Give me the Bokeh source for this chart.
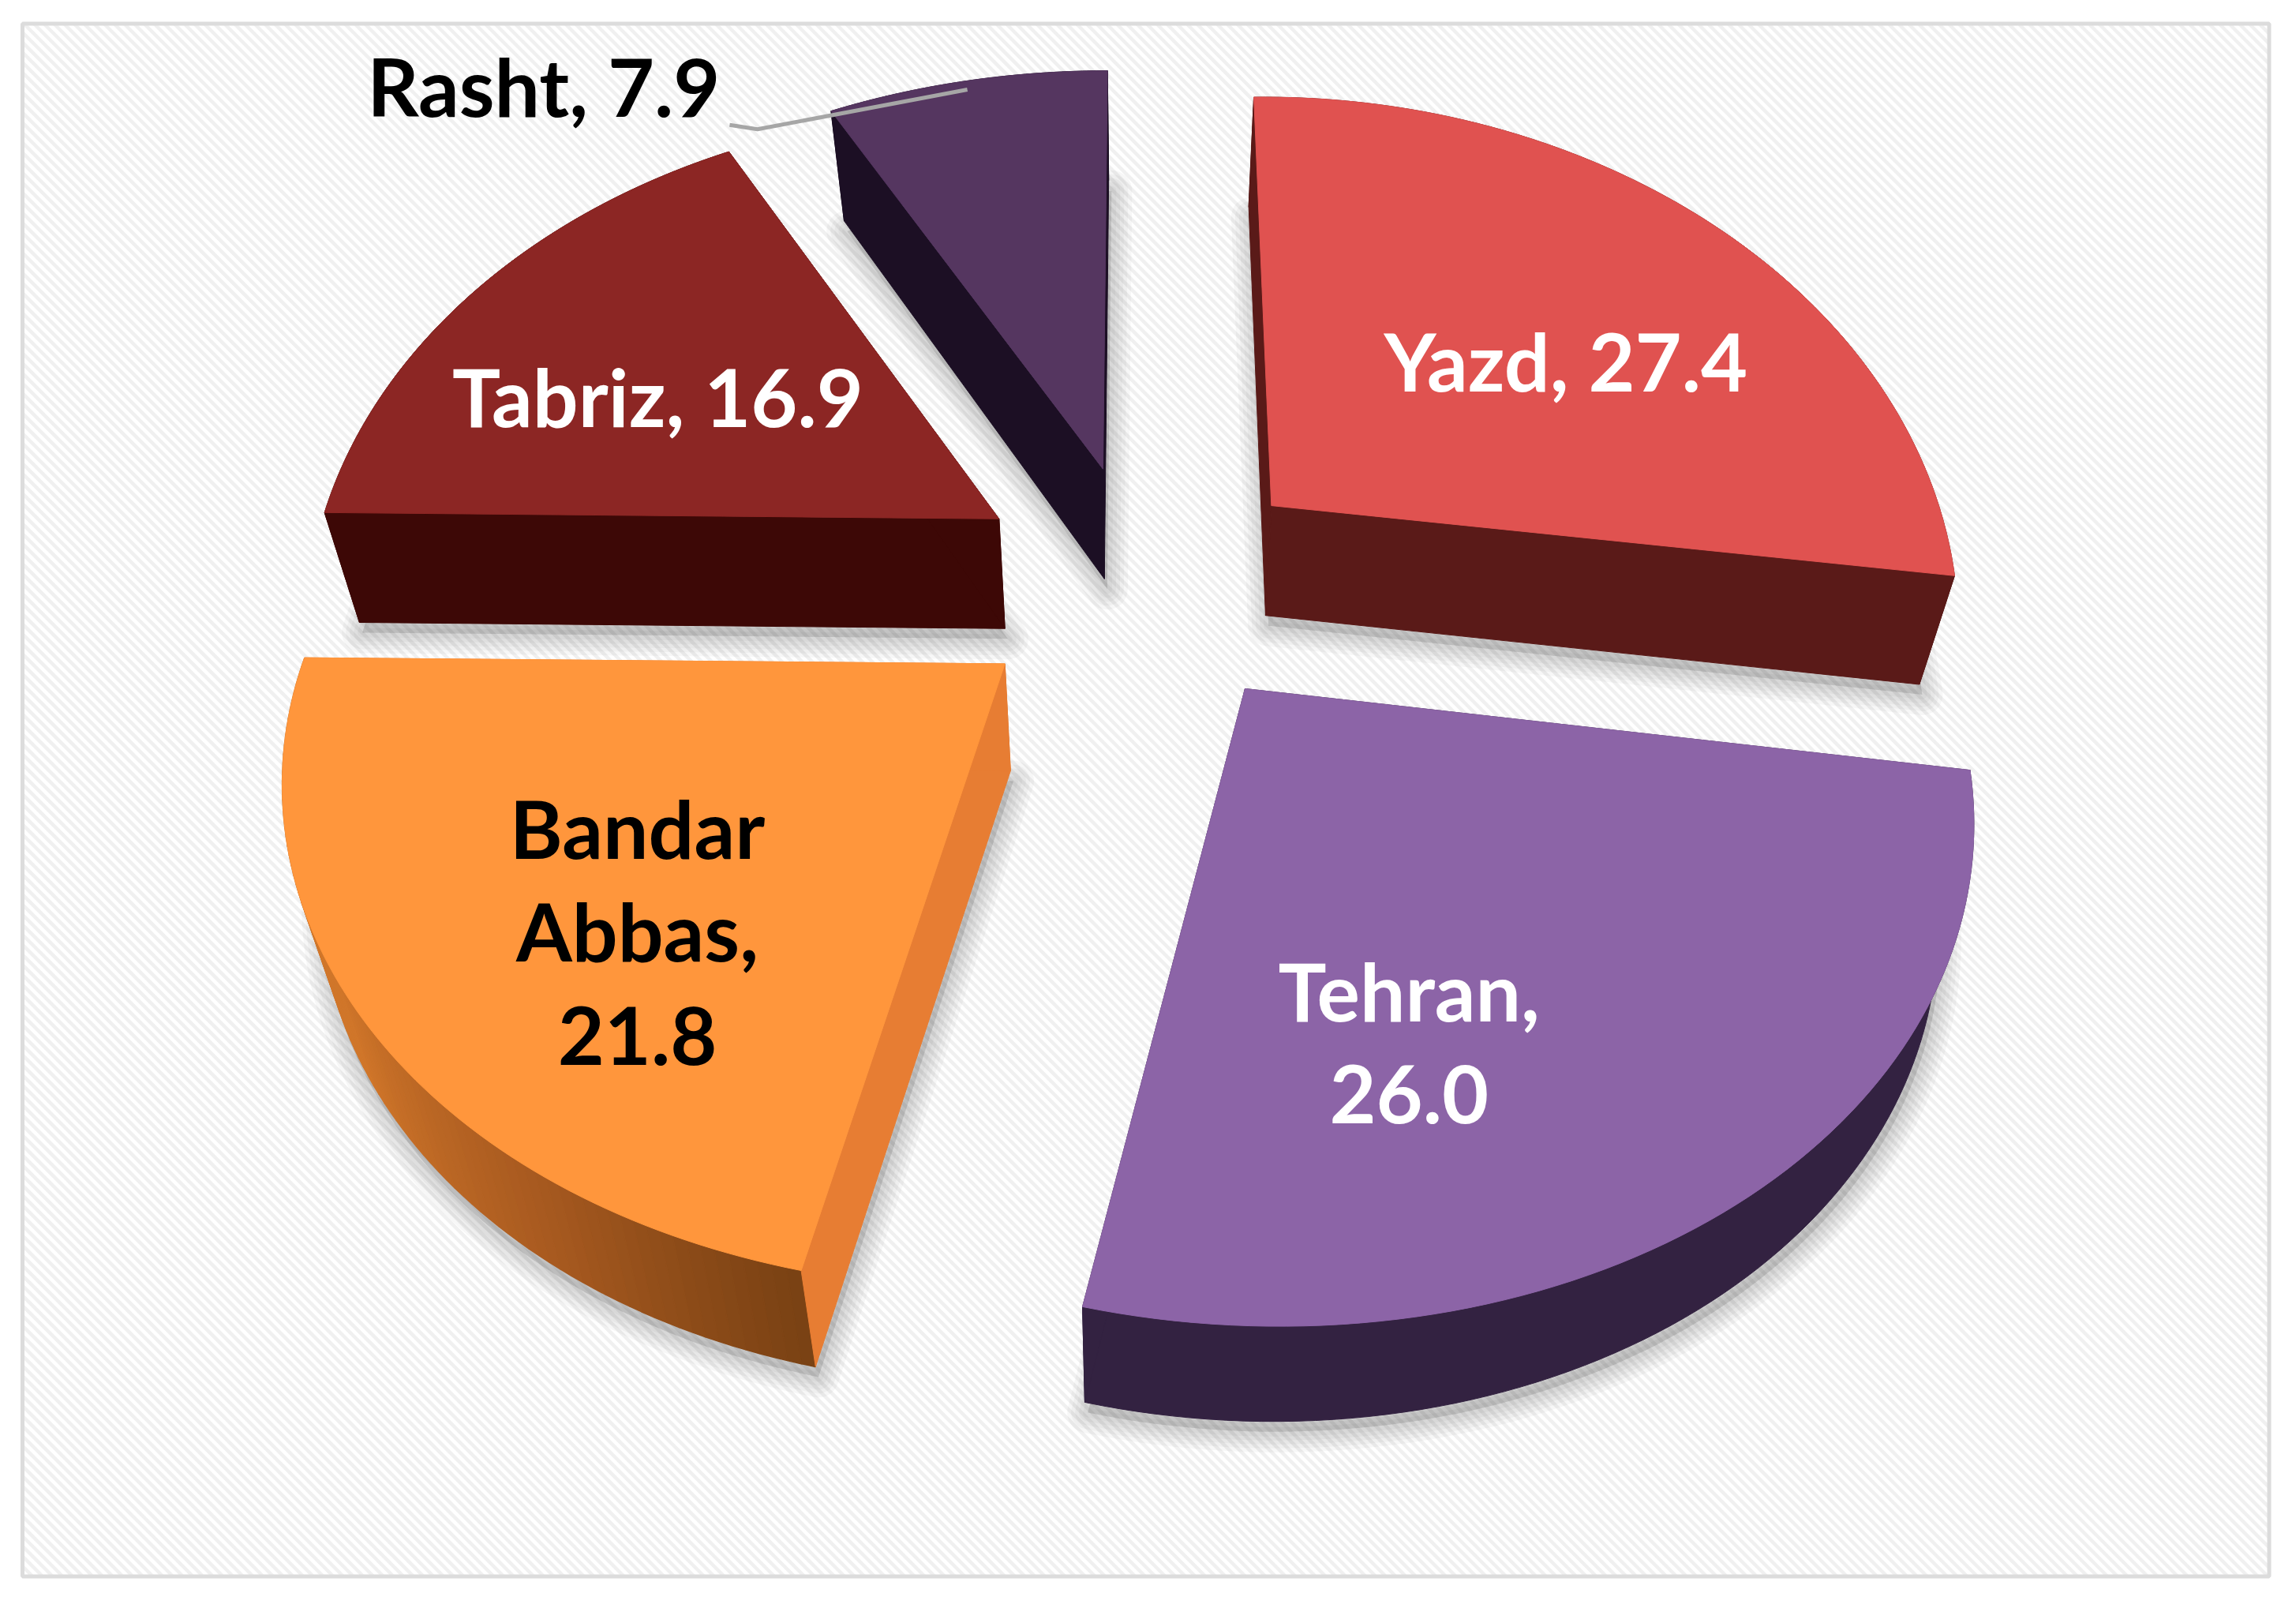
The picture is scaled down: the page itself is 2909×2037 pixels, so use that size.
import numpy as np
from bokeh.plotting import figure
from bokeh.models import Range1d
from bokeh.core.properties import value
from bokeh.embed import file_html
from bokeh.resources import INLINE

# ---- data ----
cities = ["Yazd", "Tehran", "Bandar Abbas", "Tabriz", "Rasht"]
shares = [27.4, 26.0, 21.8, 16.9, 7.9]
share_labels = ["27.4", "26.0", "21.8", "16.9", "7.9"]
top_colors = ["#E05250", "#8C64A7", "#FF963C", "#8C2624", "#553660"]
wall_colors = ["#5A1A18", "#332241", "#E77D33", "#3D0806", "#1C0F24"]
label_colors = ["white", "white", "black", "white", "black"]

# ---- layout (in units of the 1568-wide view) ----
K = 2909 / 1568
apex = [(868, 345), (850, 470), (686, 453), (682, 354), (753, 320)]
# per-slice fine adjustment of the projection: x scale, x shear, y scale, y shear
shear = [(-0.004, 0.043, 1.0, -0.0107), (0.057, 0.045, 1.0, 0.006), (0.052, -0.023, 0.98, 0.0),
         (0.013, 0.0, 1.0, 0.0), (0.035, -0.011, 0.975, 0.0)]
RX, RY, PERSP = 456, 340, 0.219
label_lines = [
    [("{0}, {1}", 1069, 246)],
    [("{0},", 962, 676), ("{1}", 962, 747)],
    [("Bandar", 435, 565), ("Abbas,", 435, 635), ("{1}", 435, 707)],
    [("{0}, {1}", 449, 270)],
    [("{0}, {1}", 371, 58)],
]
FONT_PX = 102


def project(i, theta):
    u, v = np.sin(theta), np.cos(theta)
    w = 1 + PERSP * v
    x, y = RX * u / w, -RY * v / w
    a, b, c, d = shear[i]
    return apex[i][0] + x * (1 + a) + b * y, apex[i][1] + c * y + d * x


def extrude(x, y):
    x, y = np.asarray(x, float), np.asarray(y, float)
    return 775 + (x - 775) * 0.957, y + 75 - 0.018 * np.clip(y - 350, 0, None)


p = figure(width=2893, height=2021, output_backend="svg", toolbar_location=None,
           x_range=Range1d(0, 2893), y_range=Range1d(2021, 0), min_border=0)
p.axis.visible = False
p.grid.visible = False
p.outline_line_color = None

# background stripes inside the frame
L, T, R, B = 28, 29.5, 2874.5, 1996.5
x0s, y0s, x1s, y1s = [], [], [], []
for c in np.arange(T - R, B - L, 12.7):
    xa = max(L, T - c); xb = min(R, B - c)
    x0s.append(xa); y0s.append(xa + c); x1s.append(xb); y1s.append(xb + c)
p.segment(x0s, y0s, x1s, y1s, line_color="#f0f0f0", line_width=4.5)
p.quad(left=[L], right=[R], top=[T], bottom=[B], fill_alpha=0, line_color="#dcdcdc", line_width=5)

# angular spans from the shares
edges = np.cumsum([0] + shares) / sum(shares) * 2 * np.pi
arcs = []
for i in range(len(shares)):
    th = np.linspace(edges[i], edges[i + 1], 80)
    arcs.append((th, *project(i, th)))

# soft shadows
for i in range(len(shares)):
    th, ax, ay = arcs[i]
    sx, sy = extrude(np.r_[apex[i][0], ax], np.r_[apex[i][1], ay])
    for lw in (52, 42, 32, 22, 12):
        p.patch((sx + 2) * K, (sy + 7) * K, fill_color="#000000", fill_alpha=0.025,
                line_color="#000000", line_alpha=0.03, line_width=lw, line_join="round")

# walls and tops
for i in range(len(shares)):
    th, ax, ay = arcs[i]
    bx, by = extrude(ax, ay)
    ap = apex[i]
    abx, aby = extrude(ap[0], ap[1])
    col = wall_colors[i]
    if cities[i] == "Bandar Abbas":
        # arc wall carries a gradient toward the lower right
        stops = np.array([[0xD0, 0x76, 0x2A], [0xD0, 0x76, 0x2A], [0xA8, 0x5A, 0x20], [0x7A, 0x42, 0x14]], float)
        pos = np.array([0, .45, .75, 1.0])
        for j in range(len(th) - 1):
            t = 1 - j / (len(th) - 2)
            rgb = [int(np.interp(t, pos, stops[:, k])) for k in range(3)]
            hexc = "#%02x%02x%02x" % tuple(rgb)
            xs = np.array([ax[j], ax[j + 1], bx[j + 1], bx[j]]) * K
            ys = np.array([ay[j], ay[j + 1], by[j + 1], by[j]]) * K
            p.patch(xs, ys, fill_color=hexc, line_color=hexc, line_width=1.5)
    else:
        xs = np.r_[ax, bx[::-1]] * K
        ys = np.r_[ay, by[::-1]] * K
        p.patch(xs, ys, fill_color=col, line_color=col, line_width=1)
    # the two radial walls
    for e in (0, -1):
        xs = np.array([ap[0], ax[e], bx[e], abx]) * K
        ys = np.array([ap[1], ay[e], by[e], aby]) * K
        p.patch(xs, ys, fill_color=col, line_color=col, line_width=1)
    # top face
    p.patch(np.r_[ap[0], ax] * K, np.r_[ap[1], ay] * K, fill_color=top_colors[i],
            line_color=top_colors[i], line_width=1)

# leader of the outside label, ending on the middle of the Rasht arc
ix = len(shares) - 1
mx, my = project(ix, (edges[ix] + edges[ix + 1]) / 2)
p.line(np.array([498, 517, mx]) * K, np.array([85, 88, my + 6]) * K, line_color="#a6a6a6", line_width=5)

# labels
for i, lines in enumerate(label_lines):
    for fmt, lx, ly in lines:
        p.text([lx * K], [ly * K], text=[fmt.format(cities[i], share_labels[i])],
               text_color=label_colors[i], text_font=value("Lato"), text_font_style="bold",
               text_font_size=f"{FONT_PX}px", text_align="center", text_baseline="middle")

open("out.html", "w").write(file_html(p, INLINE))
